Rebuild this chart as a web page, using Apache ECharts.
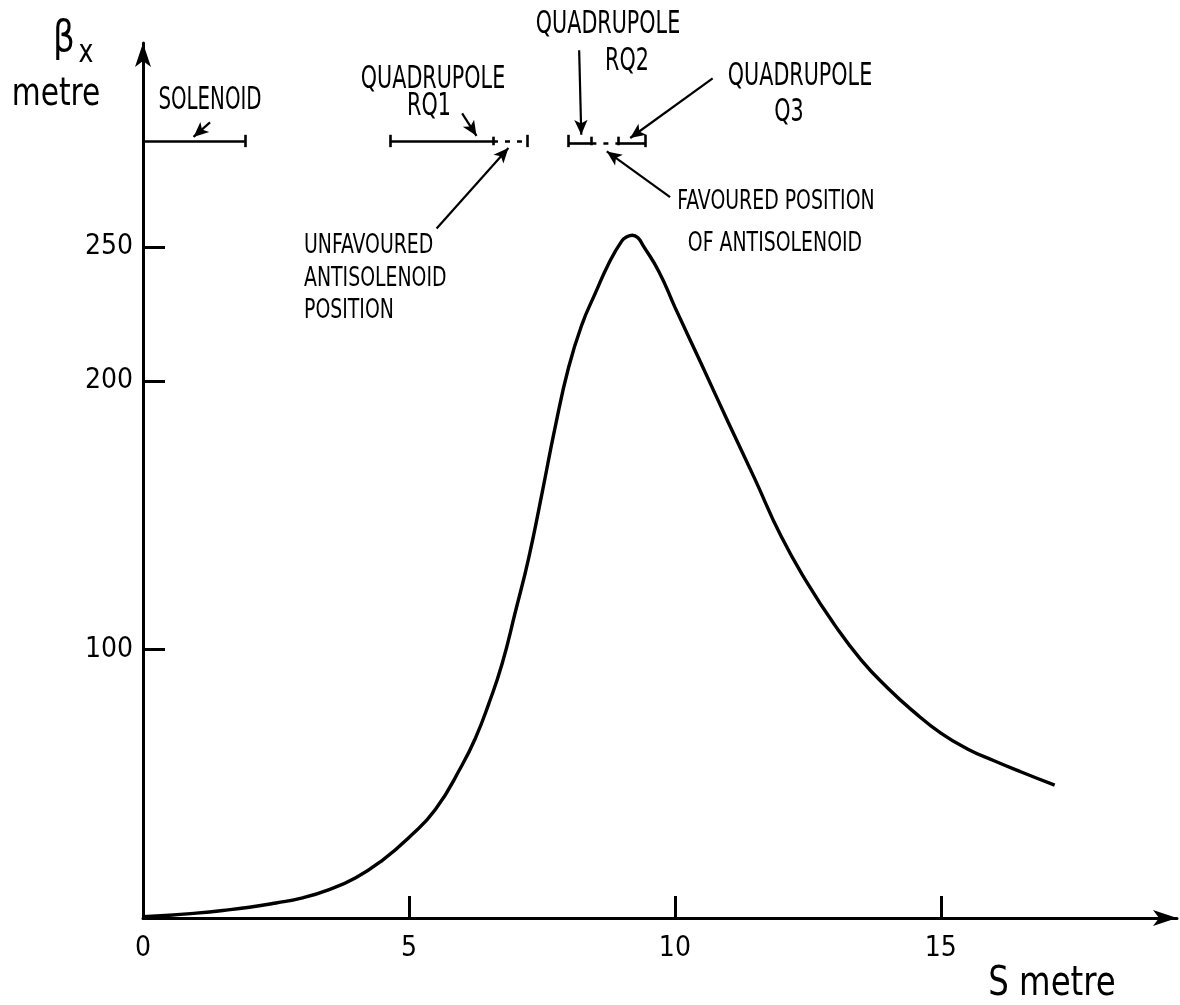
<!DOCTYPE html>
<html>
<head>
<meta charset="utf-8">
<script src="https://cdn.jsdelivr.net/npm/echarts@6/dist/echarts.min.js"></script>
<style>
html,body{margin:0;padding:0;background:#fff;}
#c{width:1180px;height:1005px;}
</style>
</head>
<body>
<div id="c"></div>
<script>
// ---- data ----
const sValues = [0, 0.5, 1.0, 1.5, 2.0, 2.5, 3.0, 3.5, 4.0, 4.5, 5.0, 5.5, 6.0, 6.25, 6.5, 6.75, 7.0, 7.25, 7.5, 7.75, 8.0, 8.25, 8.5, 8.75, 9.0, 9.1, 9.2, 9.3, 9.4, 9.7, 10.0, 10.5, 11.0, 11.5, 12.0, 12.5, 13.0, 13.5, 14.0, 14.5, 15.0, 15.5, 16.0, 16.5, 17.14];
const betaValues = [0.5, 1.0, 1.8, 2.8, 4.0, 5.6, 7.5, 10.6, 15.0, 21.5, 30.0, 40.5, 57.0, 67.0, 79.8, 94.6, 114.0, 134.0, 158.0, 183.0, 205.0, 221.0, 232.6, 243.6, 252.2, 253.8, 254.4, 253.5, 250.6, 240.8, 227.6, 206.3, 184.8, 163.7, 142.1, 124.5, 109.3, 96.2, 85.7, 76.7, 68.9, 63.0, 58.6, 54.5, 49.5];
const xTickLabels = [0, 5, 10, 15];
const yTickLabels = [100, 200, 250];
// magnet element positions along s (metre)
const solenoid = [0, 1.92];
const rq1 = [4.64, 6.58];
const rq1Anti = [6.58, 7.23];
const rq2 = [7.99, 8.43];
const rq2Anti = [8.43, 8.93];
const q3 = [8.93, 9.45];
const markerLevel = 289.5;

const FONT = '"DejaVu Sans Condensed", "Liberation Sans Narrow", sans-serif';
const curve = sValues.map((s, i) => [s, betaValues[i]]);

function seg(a, b, style, endSymbol) {
  return [
    {coord: a, symbol: 'none', lineStyle: style},
    {coord: b, symbol: endSymbol || 'none'}
  ];
}
const solid = {color: '#000', width: 2.6, type: 'solid'};
const dashed = {color: '#000', width: 2.6, type: [5, 7]};
const thin = {color: '#000', width: 2.2, type: 'solid'};
const tk = 2.3;

function endTick(s, h) { h = h || tk; return seg([s, markerLevel - h], [s, markerLevel + h], solid); }

const barLines = [
  seg([solenoid[0], markerLevel], [solenoid[1], markerLevel], solid), endTick(solenoid[1]),
  seg([rq1[0], markerLevel], [rq1[1], markerLevel], solid), endTick(rq1[0]), endTick(rq1[1], 1.6),
  seg([rq1Anti[0], markerLevel], [rq1Anti[1], markerLevel], dashed), endTick(rq1Anti[1]),
  seg([rq2[0], markerLevel - 0.8], [rq2[1], markerLevel - 0.8], solid), endTick(rq2[0]), endTick(rq2[1], 1.6),
  seg([rq2Anti[0], markerLevel - 0.8], [rq2Anti[1], markerLevel - 0.8], dashed), endTick(rq2Anti[1], 1.6),
  seg([q3[0], markerLevel - 0.8], [q3[1], markerLevel - 0.8], solid), endTick(q3[1])
];
const arrowLines = [
  seg([1.26, 296.4], [0.95, 291.0], thin, 'arrow'),
  seg([6.00, 299.8], [6.27, 291.4], thin, 'arrow'),
  seg([8.20, 323.3], [8.24, 291.8], thin, 'arrow'),
  seg([10.71, 312.8], [9.16, 290.6], thin, 'arrow'),
  seg([5.52, 256.9], [6.87, 286.9], thin, 'arrow'),
  seg([9.91, 268.6], [8.72, 285.6], thin, 'arrow')
];

function txt(text, x, y, size, align, sy) {
  return {
    type: 'text', x: x, y: y, scaleY: sy || 1.35, silent: true,
    style: {text: text, font: 'normal ' + size + 'px ' + FONT, fill: '#000',
      align: align || 'center', verticalAlign: 'middle'}
  };
}

const chart = echarts.init(document.getElementById('c'), null, {renderer: 'canvas'});
chart.setOption({
  animation: false,
  backgroundColor: '#fff',
  grid: {left: 143, right: 3, top: 43, bottom: 87, containLabel: false, outerBoundsMode: 'none'},
  xAxis: {
    type: 'value', min: 0, max: 19.44, interval: 5,
    axisLine: {show: true, onZero: false, symbol: ['none', 'arrow'], symbolSize: [12, 24], lineStyle: {color: '#000', width: 3}},
    axisTick: {show: true, inside: true, length: 22, customValues: [5, 10, 15], lineStyle: {color: '#000', width: 3}},
    axisLabel: {customValues: xTickLabels, color: '#000', fontFamily: FONT, fontSize: 28, margin: 17},
    splitLine: {show: false}
  },
  yAxis: {
    type: 'value', min: 0, max: 326, interval: 50,
    axisLine: {show: true, onZero: false, symbol: ['none', 'arrow'], symbolSize: [12, 24], lineStyle: {color: '#000', width: 3}},
    axisTick: {show: true, inside: true, length: 22, customValues: yTickLabels, lineStyle: {color: '#000', width: 3}},
    axisLabel: {customValues: yTickLabels, color: '#000', fontFamily: FONT, fontSize: 28, margin: 10},
    splitLine: {show: false}
  },
  series: [
    {
      type: 'line', data: curve, symbol: 'none', smooth: 0.5, clip: false,
      lineStyle: {color: '#000', width: 3.4}, z: 3
    },
    {
      type: 'line', data: [], symbol: 'none', silent: true,
      markLine: {silent: true, animation: false, symbol: ['none', 'none'], symbolSize: [10, 15],
        label: {show: false}, lineStyle: solid, data: barLines.concat(arrowLines)}
    }
  ],
  graphic: [
    txt('\u03B2', 64, 40, 38, 'center', 1.1),
    txt('x', 86, 54, 28, 'center', 1.15),
    txt('metre', 56, 95, 33, 'center', 1.2),
    txt('S metre', 1052, 984, 36, 'center', 1.15),
    txt('SOLENOID', 210, 101, 22, 'center', 1.45),
    txt('QUADRUPOLE', 433, 80, 23),
    txt('RQ1', 429, 107, 23),
    txt('QUADRUPOLE', 608, 25, 23),
    txt('RQ2', 627, 62, 23),
    txt('QUADRUPOLE', 800, 77, 23),
    txt('Q3', 789, 113, 23),
    txt('FAVOURED POSITION', 776, 202, 21, 'center', 1.3),
    txt('OF ANTISOLENOID', 775, 244, 21, 'center', 1.3),
    txt('UNFAVOURED', 304, 246, 21, 'left', 1.3),
    txt('ANTISOLENOID', 304, 279, 21, 'left', 1.3),
    txt('POSITION', 304, 311, 21, 'left', 1.3)
  ]
});
</script>
</body>
</html>
